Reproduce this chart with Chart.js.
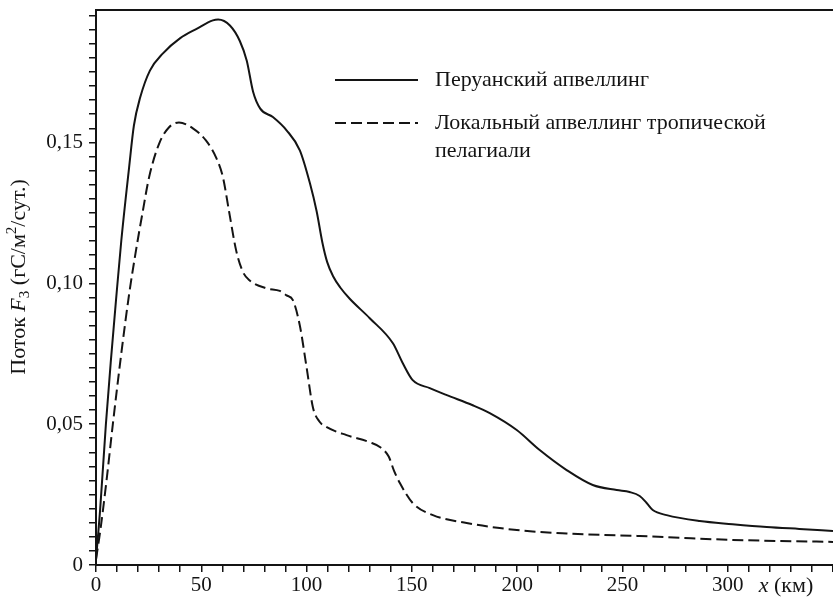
<!DOCTYPE html>
<html>
<head>
<meta charset="utf-8">
<script src="https://cdn.jsdelivr.net/npm/chart.js@4.4.1/dist/chart.umd.min.js"></script>
<style>
  html, body { margin: 0; padding: 0; background: #fff; }
</style>
</head>
<body>
<canvas id="flux" width="833" height="598"></canvas>
<script>
// Перуанский апвеллинг (x, км / поток)
const peruX = [0, 2, 4.7, 7, 9.5, 12, 15.7, 18, 21, 25.6, 31.8, 40, 48, 55.5, 58, 63.6, 68.3, 71.6, 74.6, 78, 84, 90.5, 96.8, 101.6, 104.8, 107.5, 109.8, 112.6, 116, 120.5, 130, 141, 145.7, 150.4, 158.5, 166.6, 178.9, 187, 199.8, 210.7, 223.5, 235.9, 247.3, 253.4, 258.2, 261.5, 264.4, 271, 286.7, 302.3, 318.5, 334, 350];
const peruY = [0.002, 0.02, 0.05, 0.072, 0.094, 0.115, 0.141, 0.156, 0.166, 0.1755, 0.1816, 0.187, 0.1904, 0.1933, 0.1936, 0.1915, 0.186, 0.179, 0.168, 0.162, 0.159, 0.1543, 0.1472, 0.1355, 0.1255, 0.1145, 0.1075, 0.1025, 0.0985, 0.0945, 0.0876, 0.0787, 0.0716, 0.0656, 0.0628, 0.0603, 0.0567, 0.0539, 0.0479, 0.0408, 0.0337, 0.0284, 0.0266, 0.0259, 0.0245, 0.022, 0.0195, 0.0177, 0.0156, 0.0145, 0.0135, 0.0128, 0.0121];

// Локальный апвеллинг тропической пелагиали
const tropX = [0, 2, 5, 8, 12, 15.8, 19, 22.3, 25.2, 30, 34.6, 39.4, 46, 52.2, 57, 60.3, 63.1, 66.6, 69.8, 73, 81, 87.3, 90.5, 93.5, 96.8, 100, 103, 106, 109.6, 119, 130, 135, 139, 141.5, 144.3, 150.4, 160, 176, 191.7, 207.4, 223.5, 239.2, 258.2, 271, 302.3, 350];
const tropY = [0.002, 0.012, 0.03, 0.05, 0.075, 0.0965, 0.1117, 0.1259, 0.1376, 0.1496, 0.1553, 0.1571, 0.155, 0.1507, 0.1447, 0.1376, 0.1259, 0.1115, 0.104, 0.101, 0.0982, 0.0973, 0.0957, 0.094, 0.085, 0.0702, 0.056, 0.051, 0.0489, 0.0461, 0.0436, 0.0418, 0.0385, 0.0335, 0.0291, 0.022, 0.0177, 0.0149, 0.0131, 0.0119, 0.0112, 0.0107, 0.0103, 0.0099, 0.0089, 0.0082];

const seriesNames = ['Перуанский апвеллинг', 'Локальный апвеллинг тропической пелагиали'];
const xLabelled = [0, 50, 100, 150, 200, 250, 300];
const yLabelled = ['0', '0,05', '0,10', '0,15'];

const serif = '"Liberation Serif", "Times New Roman", serif';
const ink = '#141414';

function pts(xs, ys) {
  return xs.map((x, i) => ({ x: x, y: ys[i] }));
}

const xTickVals = [];
for (let i = 0; i <= 35; i++) xTickVals.push(i * 10);
const yTickVals = [];
for (let i = 0; i <= 39; i++) yTickVals.push(Math.round(i * 5) / 1000);

const decor = {
  id: 'decor',
  afterDraw(chart) {
    const ctx = chart.ctx;
    const a = chart.chartArea;
    ctx.save();
    // верхняя рамка
    ctx.strokeStyle = ink;
    ctx.lineWidth = 2;
    ctx.beginPath();
    ctx.moveTo(a.left, a.top);
    ctx.lineTo(a.right, a.top);
    ctx.stroke();

    // легенда
    ctx.fillStyle = ink;
    ctx.font = '22px ' + serif;
    ctx.textBaseline = 'middle';
    ctx.textAlign = 'left';
    let y = 80;
    chart.data.datasets.forEach(ds => {
      ctx.strokeStyle = ds.borderColor;
      ctx.lineWidth = ds.borderWidth;
      ctx.setLineDash(ds.borderDash || []);
      ctx.beginPath();
      ctx.moveTo(335, y);
      ctx.lineTo(418, y);
      ctx.stroke();
      ctx.setLineDash([]);
      // перенос строки по ширине
      const words = ds.label.split(' ');
      let line = '';
      const lines = [];
      words.forEach(w => {
        const t = line ? line + ' ' + w : w;
        if (ctx.measureText(t).width > 370 && line) { lines.push(line); line = w; }
        else line = t;
      });
      lines.push(line);
      lines.forEach((l, k) => ctx.fillText(l, 435, y + k * 28));
      y += 43;
    });

    // подпись оси x
    ctx.textBaseline = 'top';
    ctx.font = 'italic 22px ' + serif;
    const xa = 'x';
    const xb = ' (км)';
    const wa = ctx.measureText(xa).width;
    ctx.font = '22px ' + serif;
    const wb = ctx.measureText(xb).width;
    let sx = 786 - (wa + wb) / 2;
    ctx.font = 'italic 22px ' + serif;
    ctx.fillText(xa, sx, 575);
    ctx.font = '22px ' + serif;
    ctx.fillText(xb, sx + wa, 575);

    // подпись оси y
    const parts = [
      { t: 'Поток ', f: '22px ', dy: 0 },
      { t: 'F', f: 'italic 22px ', dy: 0 },
      { t: '3', f: '15px ', dy: 6 },
      { t: ' (гС/м', f: '22px ', dy: 0 },
      { t: '2', f: '15px ', dy: -7 },
      { t: '/сут.)', f: '22px ', dy: 0 }
    ];
    let total = 0;
    parts.forEach(p => { ctx.font = p.f + serif; p.w = ctx.measureText(p.t).width; total += p.w; });
    ctx.translate(19, 277);
    ctx.rotate(-Math.PI / 2);
    ctx.textBaseline = 'middle';
    let px = -total / 2;
    parts.forEach(p => {
      ctx.font = p.f + serif;
      ctx.fillText(p.t, px, p.dy);
      px += p.w;
    });
    ctx.restore();
  }
};

new Chart(document.getElementById('flux'), {
  type: 'line',
  data: {
    datasets: [{
      label: seriesNames[0],
      data: pts(peruX, peruY),
      borderColor: ink,
      borderWidth: 2,
      pointRadius: 0,
      cubicInterpolationMode: 'monotone',
      fill: false
    }, {
      label: seriesNames[1],
      data: pts(tropX, tropY),
      borderColor: ink,
      borderWidth: 2,
      borderDash: [11, 5],
      pointRadius: 0,
      cubicInterpolationMode: 'monotone',
      fill: false
    }]
  },
  options: {
    responsive: false,
    animation: false,
    layout: { padding: { top: 10, left: 0, right: 0, bottom: 0 } },
    plugins: {
      legend: { display: false },
      tooltip: { enabled: false }
    },
    scales: {
      x: {
        type: 'linear',
        min: 0,
        max: 350,
        afterBuildTicks: s => { s.ticks = xTickVals.map(v => ({ value: v })); },
        afterFit: s => { s.height = 33; s.paddingLeft = 0; s.paddingRight = 0; },
        grid: { drawOnChartArea: false, drawTicks: true, tickLength: 7, color: ink, lineWidth: 1.5 },
        border: { display: true, color: ink, width: 2 },
        ticks: {
          autoSkip: false,
          maxRotation: 0,
          padding: 1,
          color: ink,
          font: { family: serif, size: 21 },
          callback: v => xLabelled.includes(v) ? String(v) : ''
        }
      },
      y: {
        min: 0,
        max: 0.197,
        afterBuildTicks: s => { s.ticks = yTickVals.map(v => ({ value: v })); },
        afterFit: s => { s.width = 96; s.paddingTop = 0; s.paddingBottom = 0; },
        grid: { drawOnChartArea: false, drawTicks: true, tickLength: 7, color: ink, lineWidth: 1.5 },
        border: { display: true, color: ink, width: 2 },
        ticks: {
          autoSkip: false,
          padding: 6,
          color: ink,
          font: { family: serif, size: 21 },
          callback: v => {
            const k = Math.round(v * 1000);
            return k % 50 === 0 ? yLabelled[k / 50] : '';
          }
        }
      }
    }
  },
  plugins: [decor]
});
</script>
</body>
</html>
